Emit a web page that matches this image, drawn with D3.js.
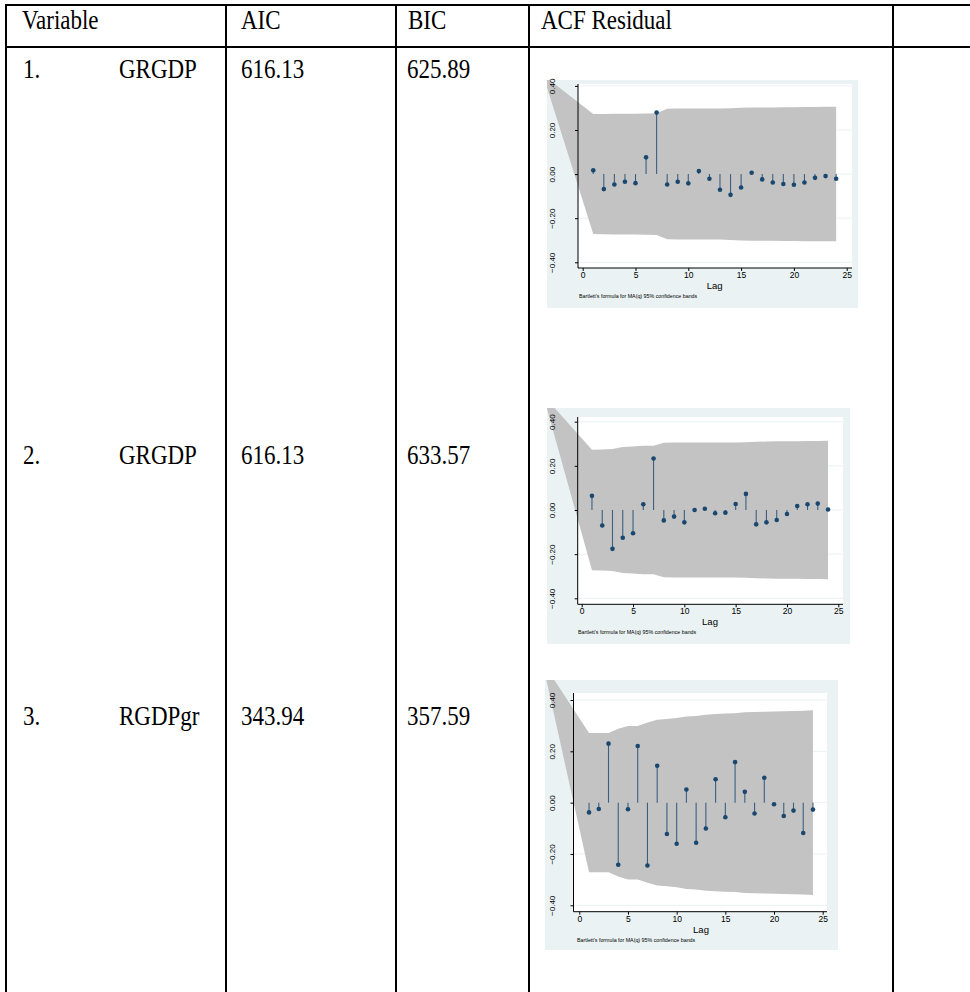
<!DOCTYPE html>
<html>
<head>
<meta charset="utf-8">
<script src="https://cdn.jsdelivr.net/npm/d3@7"></script>
<style>
    body { margin: 0; background: #fff; }
    svg { display: block; }
</style>
</head>
<body>
<div id="chart"></div>
<script>
// ---- table data ----
const headers = ["Variable", "AIC", "BIC", "ACF Residual"];
const rowNums = ["1.", "2.", "3."];
const rowVars = ["GRGDP", "GRGDP", "RGDPgr"];
const rowAic = ["616.13", "616.13", "343.94"];
const rowBic = ["625.89", "633.57", "357.59"];

// ---- ACF data (lags 1..24) ----
const lags = [1, 2, 3, 4, 5, 6, 7, 8, 9, 10, 11, 12, 13, 14, 15, 16, 17, 18, 19, 20, 21, 22, 23, 24];
const xTicks = [0, 5, 10, 15, 20, 25];
const yTicks = [0.40, 0.20, 0.00, -0.20, -0.40];

const acf1 = [0.017, -0.068, -0.047, -0.035, -0.041, 0.076, 0.279, -0.047, -0.035, -0.042, 0.014, -0.021,
    -0.071, -0.094, -0.061, 0.006, -0.024, -0.038, -0.045, -0.048, -0.038, -0.017, -0.009, -0.021];
const band1 = [0.272, 0.273, 0.274, 0.274, 0.274, 0.275, 0.276, 0.296, 0.297, 0.297, 0.297, 0.297,
    0.297, 0.299, 0.301, 0.302, 0.302, 0.302, 0.303, 0.303, 0.304, 0.304, 0.305, 0.305];
const apex1 = { lag: -3.76, value: 0.45 };

const acf2 = [0.064, -0.070, -0.176, -0.126, -0.105, 0.026, 0.233, -0.047, -0.030, -0.056, 0.000, 0.006,
    -0.015, -0.012, 0.027, 0.073, -0.065, -0.056, -0.045, -0.018, 0.018, 0.026, 0.029, 0.002];
const band2 = [0.273, 0.274, 0.276, 0.285, 0.288, 0.291, 0.291, 0.305, 0.306, 0.306, 0.306, 0.306,
    0.306, 0.306, 0.306, 0.307, 0.309, 0.310, 0.311, 0.312, 0.312, 0.313, 0.313, 0.314];
const apex2 = { lag: -3.75, value: 0.52 };

const acf3 = [-0.038, -0.025, 0.230, -0.242, -0.026, 0.221, -0.245, 0.144, -0.122, -0.160, 0.051, -0.156,
    -0.101, 0.091, -0.057, 0.158, 0.042, -0.042, 0.097, -0.006, -0.052, -0.031, -0.118, -0.027];
const band3 = [0.271, 0.271, 0.271, 0.288, 0.299, 0.299, 0.312, 0.323, 0.326, 0.330, 0.336, 0.338,
    0.343, 0.345, 0.347, 0.348, 0.352, 0.353, 0.354, 0.355, 0.356, 0.357, 0.358, 0.360];
const apex3 = { lag: -3.8, value: 0.55 };

const note = "Bartlett's formula for MA(q) 95% confidence bands";

const serif = "'Times New Roman', 'Liberation Serif', Tinos, 'DejaVu Serif', serif";
const sans = "Arial, 'Liberation Sans', Helvetica, sans-serif";

const svg = d3.select("#chart").append("svg")
    .attr("width", 970)
    .attr("height", 992);

// ---- table frame ----
const colLines = [6, 226, 396, 529, 893];
const tableTop = 5, headerBottom = 47, tableBottom = 992;

svg.selectAll(".vline").data(colLines).enter().append("line")
    .attr("x1", d => d).attr("x2", d => d)
    .attr("y1", tableTop - 1).attr("y2", tableBottom)
    .attr("stroke", "#000").attr("stroke-width", 2);

svg.selectAll(".hline").data([tableTop, headerBottom]).enter().append("line")
    .attr("x1", colLines[0] - 1).attr("x2", 970)
    .attr("y1", d => d).attr("y2", d => d)
    .attr("stroke", "#000").attr("stroke-width", 2);

// the scanned table text is a little taller than it is wide
function cellText(sel, x, y) {
    return sel.style("font-family", serif).style("font-size", "23px")
        .attr("transform", (d, i) => `translate(${x(d, i)},${y(d, i)}) scale(1,1.15)`);
}

const headerX = [22, 241, 408, 541];
svg.selectAll(".head").data(headers).enter().append("text")
    .call(cellText, (d, i) => headerX[i], () => 29)
    .text(d => d);

const rowY = [78, 464, 725];
rowNums.forEach((n, i) => {
    const row = [
        { x: 23, t: n },
        { x: 119, t: rowVars[i] },
        { x: 241, t: rowAic[i] },
        { x: 407, t: rowBic[i] }
    ];
    svg.selectAll(null).data(row).enter().append("text")
        .call(cellText, d => d.x, () => rowY[i])
        .text(d => d.t);
});

// ---- Stata style ACF plot ----
class AcfPlot {
    constructor(_svg, _id, _layout, _acf, _band, _apex) {
        this.svg = _svg;
        this.id = _id;
        this.layout = _layout;
        this.acf = _acf;
        this.band = _band;
        this.apex = _apex;
        this.initVis();
    }

    initVis() {
        const vis = this;
        const L = vis.layout;

        vis.g = vis.svg.append("g").style("font-family", sans);

        vis.g.append("clipPath").attr("id", vis.id)
            .append("rect")
            .attr("x", L.bg[0]).attr("y", L.bg[1])
            .attr("width", L.bg[2]).attr("height", L.bg[3]);

        // graph region
        vis.g.append("rect")
            .attr("x", L.bg[0]).attr("y", L.bg[1])
            .attr("width", L.bg[2]).attr("height", L.bg[3])
            .attr("fill", "#eaf2f3");

        vis.x = d3.scaleLinear().domain([0, 25]).range([L.x0, L.x25]);
        vis.y = d3.scaleLinear().domain([-0.4, 0.4]).range([L.yLo, L.yHi]);

        // plot region
        vis.g.append("rect")
            .attr("x", L.axisX).attr("y", L.plotTop)
            .attr("width", L.plotRight - L.axisX).attr("height", L.axisY - L.plotTop)
            .attr("fill", "#fff");

        vis.g.selectAll(".grid").data(yTicks).enter().append("line")
            .attr("x1", L.axisX).attr("x2", L.plotRight)
            .attr("y1", d => vis.y(d)).attr("y2", d => vis.y(d))
            .attr("stroke", "#eaf2f3").attr("stroke-width", 1);

        vis.updateVis();
    }

    updateVis() {
        const vis = this;
        const L = vis.layout;

        // confidence band
        const upper = lags.map((l, i) => [l, vis.band[i]]);
        const lower = lags.map((l, i) => [l, -vis.band[i]]).reverse();
        const pts = [[vis.apex.lag, vis.apex.value]].concat(upper, lower);
        vis.g.append("path")
            .attr("clip-path", `url(#${vis.id})`)
            .attr("d", d3.line().x(d => vis.x(d[0])).y(d => vis.y(d[1]))(pts) + "Z")
            .attr("fill", "#c3c3c3");

        // axes
        const yAxis = d3.axisLeft(vis.y).tickValues(yTicks).tickSize(3).tickFormat(d3.format(".2f"));
        const yg = vis.g.append("g").attr("transform", `translate(${L.axisX},0)`).call(yAxis);
        yg.attr("font-family", null);
        yg.select(".domain").attr("d", `M0,${L.plotTop}V${L.axisY}`).attr("stroke", "#000");
        yg.selectAll(".tick text")
            .attr("font-size", 8)
            .attr("x", null).attr("dy", null)
            .attr("text-anchor", "middle")
            .attr("transform", `translate(${L.labelOff},0) rotate(-90)`);

        const xAxis = d3.axisBottom(vis.x).tickValues(xTicks).tickSize(3);
        const xg = vis.g.append("g").attr("transform", `translate(0,${L.axisY})`).call(xAxis);
        xg.attr("font-family", null);
        xg.select(".domain").attr("d", `M${L.axisX},0H${L.plotRight}`).attr("stroke", "#000");
        xg.selectAll(".tick text").attr("font-size", 8.5).attr("y", 4);

        vis.g.append("text")
            .attr("x", vis.x(12.5)).attr("y", L.axisY + 21)
            .attr("text-anchor", "middle").attr("font-size", 9.5)
            .text("Lag");

        vis.g.append("text")
            .attr("x", L.noteX).attr("y", L.axisY + 30)
            .attr("font-size", 5.3)
            .text(note);

        // stems and dots
        vis.g.selectAll(".stem").data(vis.acf).enter().append("line")
            .attr("x1", (d, i) => vis.x(lags[i])).attr("x2", (d, i) => vis.x(lags[i]))
            .attr("y1", vis.y(0)).attr("y2", d => vis.y(d))
            .attr("stroke", "#3c5f80").attr("stroke-width", 1.1);

        vis.g.selectAll(".dot").data(vis.acf).enter().append("circle")
            .attr("cx", (d, i) => vis.x(lags[i]))
            .attr("cy", d => vis.y(d))
            .attr("r", 2.3)
            .attr("fill", "#1a476f");
    }
}

new AcfPlot(svg, "clip1", {
    bg: [547, 80, 311, 228], x0: 582.7, x25: 846.7, yHi: 85.9, yLo: 262.3,
    axisX: 578, axisY: 268, plotTop: 84, plotRight: 852, noteX: 579, labelOff: -23
}, acf1, band1, apex1);

new AcfPlot(svg, "clip2", {
    bg: [547, 408, 303, 236], x0: 581.7, x25: 838.3, yHi: 421.7, yLo: 598.3,
    axisX: 577.7, axisY: 604.3, plotTop: 417, plotRight: 843, noteX: 578, labelOff: -23
}, acf2, band2, apex2);

new AcfPlot(svg, "clip3", {
    bg: [545, 680, 293, 270], x0: 579.3, x25: 822.7, yHi: 700, yLo: 905.3,
    axisX: 573.5, axisY: 911.7, plotTop: 693, plotRight: 827, noteX: 577, labelOff: -19
}, acf3, band3, apex3);
</script>
</body>
</html>
